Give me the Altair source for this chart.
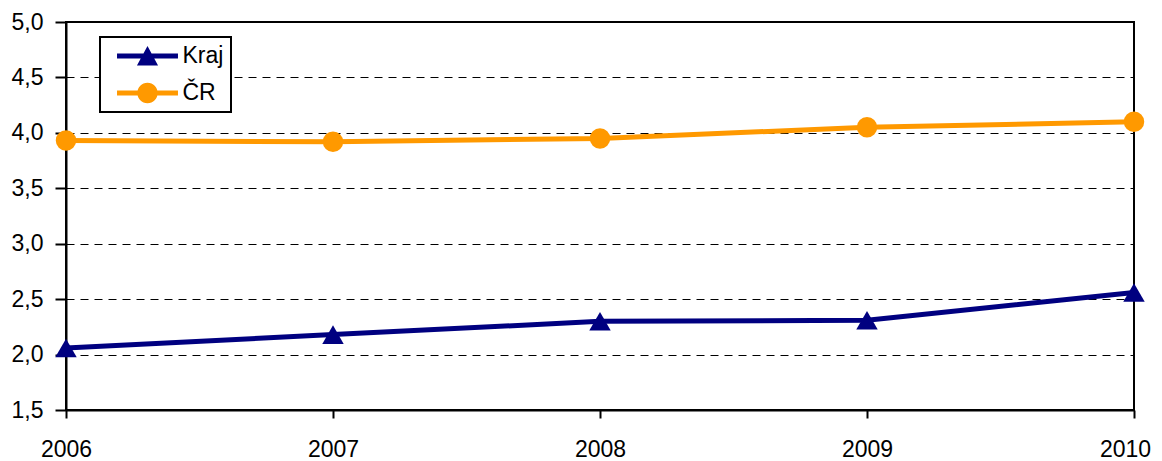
import altair as alt
import pandas as pd

years = [2006, 2007, 2008, 2009, 2010]
series_names = ["Kraj", "ČR"]
kraj = [2.06, 2.18, 2.30, 2.31, 2.56]
cr = [3.93, 3.92, 3.95, 4.05, 4.10]
y_ticks = [1.5, 2.0, 2.5, 3.0, 3.5, 4.0, 4.5, 5.0]
colors = ["#000080", "#FF9900"]

rows = []
for name, vals in zip(series_names, [kraj, cr]):
    for yr, v in zip(years, vals):
        rows.append({"year": yr, "series": name, "value": v})
df = pd.DataFrame(rows)

FONT = "Liberation Sans"

# legend symbols: a line with the marker on it (unit space, r = sqrt(size)/2 = 12)
LINE = "M-2.54,-0.21L2.54,-0.21L2.54,0.21L-2.54,0.21Z "
tri_path = LINE + "M0,-0.83L0.88,0.8L-0.88,0.8Z"
circ_path = LINE + "M-0.85,0A0.85,0.85 0 1,1 0.85,0A0.85,0.85 0 1,1 -0.85,0Z"

x_enc = alt.X(
    "year:Q",
    scale=alt.Scale(domain=[years[0], years[-1]], nice=False, zero=False),
    axis=alt.Axis(values=years, format="d", title=None, grid=False,
                  tickSize=8, labelPadding=20, domainWidth=2, tickWidth=2,
                  labelFontSize=23, labelFont=FONT, labelColor="black",
                  labelFlush=False, domainColor="black", tickColor="black",
                  labelOffset={"condition": {"test": "datum.value == 2010",
                                             "value": -9},
                               "value": 0}),
)
y_enc = alt.Y(
    "value:Q",
    scale=alt.Scale(domain=[1.5, 5.0], nice=False, zero=False),
    axis=alt.Axis(values=y_ticks, title=None, grid=True, gridColor="black",
                  gridDash=[8, 6], gridWidth=1, tickSize=11, labelPadding=12,
                  domainWidth=2, tickWidth=2, labelFontSize=23, labelFont=FONT,
                  labelColor="black", domainColor="black", tickColor="black",
                  labelFlush=False,
                  labelExpr="replace(format(datum.value, '.1f'), '.', ',')"),
)
color_scale = alt.Scale(domain=series_names, range=colors)
legend_def = alt.Legend(title=None, orient="none", legendX=34, legendY=15,
                        labelExpr="datum.label + '\u2002\u00a0'")
color_enc = alt.Color("series:N", scale=color_scale, legend=legend_def)

base = alt.Chart(df)

legend_layer = base.transform_filter("datum.year < 0").mark_point(
    filled=True, opacity=1
).encode(
    x="year:Q", y="value:Q",
    color=color_enc,
    shape=alt.Shape("series:N",
                    scale=alt.Scale(domain=series_names,
                                    range=[tri_path, circ_path]),
                    legend=legend_def),
)

lines = base.mark_line(strokeWidth=5).encode(
    x=x_enc, y=y_enc, color=color_enc,
)

pts_kraj = base.transform_filter(alt.datum.series == "Kraj").mark_point(
    shape="triangle-up", filled=True, size=460, opacity=1
).encode(x="year:Q", y="value:Q", color=color_enc)

pts_cr = base.transform_filter(alt.datum.series == "ČR").mark_point(
    shape="circle", filled=True, size=420, opacity=1
).encode(x="year:Q", y="value:Q", color=color_enc)

chart = alt.layer(lines, pts_kraj, pts_cr, legend_layer).properties(
    width=1068, height=388,
    autosize=alt.AutoSizeParams(type="none"),
    padding={"left": 58, "top": 14, "right": 20, "bottom": 60},
).configure_view(
    stroke="black", strokeWidth=2
).configure_legend(
    strokeColor="black", strokeWidth=2, padding=7, symbolSize=576,
    symbolOpacity=1, symbolStrokeWidth=0, labelFont=FONT, labelFontSize=23,
    labelColor="black", labelOffset=23, rowPadding=13, symbolOffset=28.5,
    fillColor="white",
)

chart.save("out.html", embed_options={"renderer": "svg", "actions": False})
